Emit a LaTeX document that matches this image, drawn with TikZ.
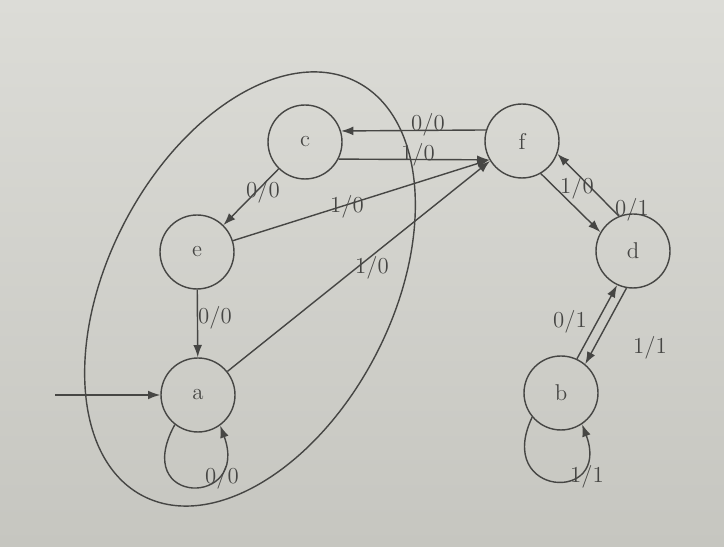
\documentclass[tikz,border=0pt]{standalone}
\usetikzlibrary{arrows.meta}
\definecolor{papertop}{RGB}{220,220,215}
\definecolor{paperbot}{RGB}{198,198,192}
\definecolor{ink}{RGB}{70,70,68}
\begin{document}
\begin{tikzpicture}[x=0.02cm, y=0.02cm,
      >={Latex[length=7pt,width=5pt]},
      line/.style = {draw=ink, line width=0.8pt},
      state/.style = {shape=circle, draw=ink, line width=0.8pt,
        minimum size=1.48cm, inner sep=0pt, text=ink},
      lbl/.style = {inner sep=0pt, text=ink},
      font=\fontsize{13pt}{15pt}\selectfont]
  \shade[top color=papertop, bottom color=paperbot]
    (0,0) rectangle (724,547);
  \useasboundingbox (0,0) rectangle (724,547);
  \draw[line] (250,258) ellipse [x radius=233, y radius=142, rotate=62.7];
  \node[state] (c) at (305,405) {c};
  \node[state] (f) at (522,406) {f};
  \node[state] (e) at (197,295) {e};
  \node[state] (a) at (198,152) {a};
  \node[state] (d) at (633,296) {d};
  \node[state] (b) at (561,154) {b};
  \coordinate (start) at (55,152);
  \draw[line,->] (start) -- (a);
  \draw[line,->] (f.163) -- (c.17);
  \draw[line,->] (c.-27) -- (f.-150);
  \draw[line,->] (c) -- (e);
  \draw[line,->] (e) -- (f.-150);
  \draw[line,->] (a) -- (f.-148);
  \draw[line,->] (e) -- (a);
  \draw[line,->] (a.-128) .. controls +(-45,-82) and +(30,-82) .. (a.-54);
  \draw[line,->] (f.-60) -- (d.150);
  \draw[line,->] (d.112) -- (f.-20);
  \draw[line,->] (b.65) -- (d.-115);
  \draw[line,->] (d.-100) -- (b.50);
  \draw[line,->] (b.-140) .. controls +(-38,-80) and +(30,-80) .. (b.-56);
  \node[lbl] (l-fc) at (428,422) {0/0};
  \node[lbl] (l-cf) at (418,392) {1/0};
  \node[lbl] (l-ce) at (263,355) {0/0};
  \node[lbl] (l-ef) at (347,340) {1/0};
  \node[lbl] (l-af) at (372,279) {1/0};
  \node[lbl] (l-ea) at (215,229) {0/0};
  \node[lbl] (l-aa) at (222,69) {0/0};
  \node[lbl] (l-fd) at (577,359) {1/0};
  \node[lbl] (l-df) at (632,337) {0/1};
  \node[lbl] (l-bd) at (570,225) {0/1};
  \node[lbl] (l-db) at (650,199) {1/1};
  \node[lbl] (l-bb) at (587,70) {1/1};
\end{tikzpicture}
\end{document}
